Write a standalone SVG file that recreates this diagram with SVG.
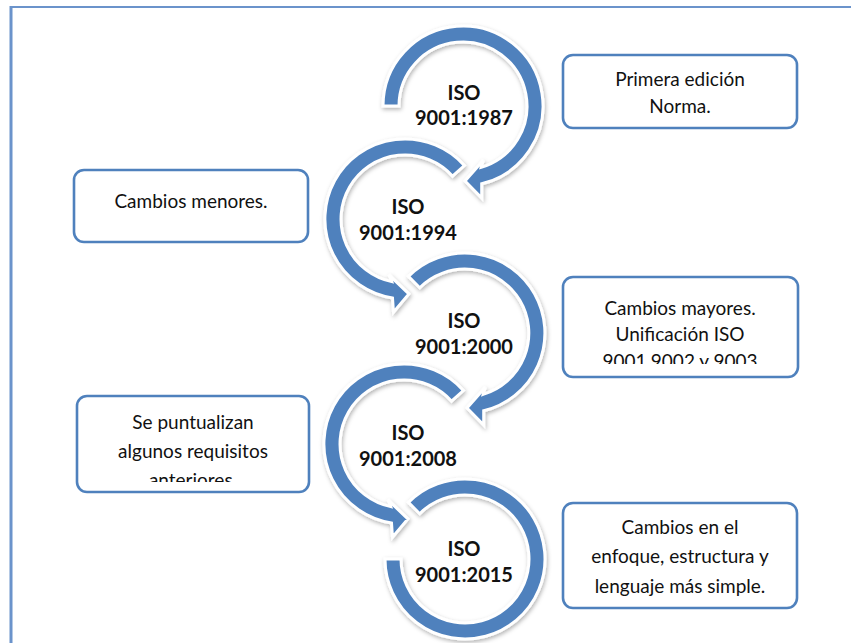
<svg xmlns="http://www.w3.org/2000/svg" width="851" height="643" viewBox="0 0 851 643">
<defs>
<style>
.frame{stroke:#6B93CB;fill:none}
.ring{fill:#4F81BD;stroke:#FFFFFF;stroke-width:3;stroke-linejoin:miter;filter:url(#sh)}
.box{fill:#FFFFFF;stroke:#4F81BD;stroke-width:2.6}
.bt{font-family:Lato,"Liberation Sans",sans-serif;font-size:19px;fill:#111111;text-anchor:middle}
.ct{font-family:Lato,"Liberation Sans",sans-serif;font-size:20px;font-weight:bold;fill:#111111;text-anchor:middle}
</style>
<filter id="sh" x="-20%" y="-20%" width="140%" height="140%">
<feDropShadow dx="1" dy="2" stdDeviation="2" flood-color="#000000" flood-opacity="0.3"/>
</filter>
<clipPath id="c3"><rect x="563" y="277" width="235" height="87"/></clipPath>
<clipPath id="c4"><rect x="77" y="396" width="232" height="86"/></clipPath>
</defs>
<rect width="851" height="643" fill="#FFFFFF"/>
<line class="frame" x1="11" y1="7" x2="851" y2="7" stroke-width="2"/>
<line class="frame" x1="11" y1="6" x2="11" y2="643" stroke-width="3"/>

<g id="connectors"></g>

<g id="step5">
<path class="ring" d="M408.4,502.4 A80,80 0 1 1 385,559 L401,559 A64,64 0 1 0 419.7,513.7 Z"/>
<text class="ct" x="464" y="556">ISO</text>
<text class="ct" x="464" y="582">9001:2015</text>
</g>
<g id="step4">
<path class="ring" d="M463.4,390.5 A80,80 0 1 0 391.5,523 L392.5,537.3 L407.9,518.9 L388,499.8 L390.7,506.6 A64,64 0 1 1 451.6,401.2 Z"/>
<text class="ct" x="408" y="440">ISO</text>
<text class="ct" x="408" y="466">9001:2008</text>
</g>
<g id="step3">
<path class="ring" d="M408.4,276.4 A80,80 0 1 1 483.7,410.8 L483.7,425.1 L467,408 L485.3,387.3 L483.2,394.4 A64,64 0 1 0 419.7,287.7 Z"/>
<text class="ct" x="464" y="328">ISO</text>
<text class="ct" x="464" y="354">9001:2000</text>
</g>
<g id="step2">
<path class="ring" d="M464.4,165.5 A80,80 0 1 0 392.5,298 L393.5,312.3 L408.9,293.9 L389,274.8 L391.7,281.6 A64,64 0 1 1 452.6,176.2 Z"/>
<text class="ct" x="408" y="214">ISO</text>
<text class="ct" x="408" y="240">9001:1994</text>
</g>
<g id="step1">
<path class="ring" d="M383,106 A80,80 0 1 1 481.7,183.8 L481.7,198.1 L465,181 L483.3,160.3 L481.2,167.4 A64,64 0 1 0 399,106 Z"/>
<text class="ct" x="464" y="100">ISO</text>
<text class="ct" x="464" y="125">9001:1987</text>
</g>

<g id="note1">
<rect class="box" x="563" y="55" width="234" height="73" rx="10"/>
<text class="bt" x="680" y="86">Primera edición</text>
<text class="bt" x="680" y="113">Norma.</text>
</g>
<g id="note2">
<rect class="box" x="74" y="170" width="234" height="72" rx="10"/>
<text class="bt" x="191" y="208">Cambios menores.</text>
</g>
<g id="note3">
<rect class="box" x="563" y="277" width="235" height="100" rx="10"/>
<g clip-path="url(#c3)">
<text class="bt" x="680" y="315">Cambios mayores.</text>
<text class="bt" x="680" y="341">Unificación ISO</text>
<text class="bt" x="680" y="368">9001,9002 y 9003</text>
</g>
</g>
<g id="note4">
<rect class="box" x="77" y="396" width="232" height="96" rx="10"/>
<g clip-path="url(#c4)">
<text class="bt" x="193" y="429">Se puntualizan</text>
<text class="bt" x="193" y="458">algunos requisitos</text>
<text class="bt" x="193" y="487">anteriores.</text>
</g>
</g>
<g id="note5">
<rect class="box" x="563" y="503" width="234" height="105" rx="10"/>
<text class="bt" x="680" y="534">Cambios en el</text>
<text class="bt" x="680" y="563">enfoque, estructura y</text>
<text class="bt" x="680" y="593">lenguaje más simple.</text>
</g>
</svg>
